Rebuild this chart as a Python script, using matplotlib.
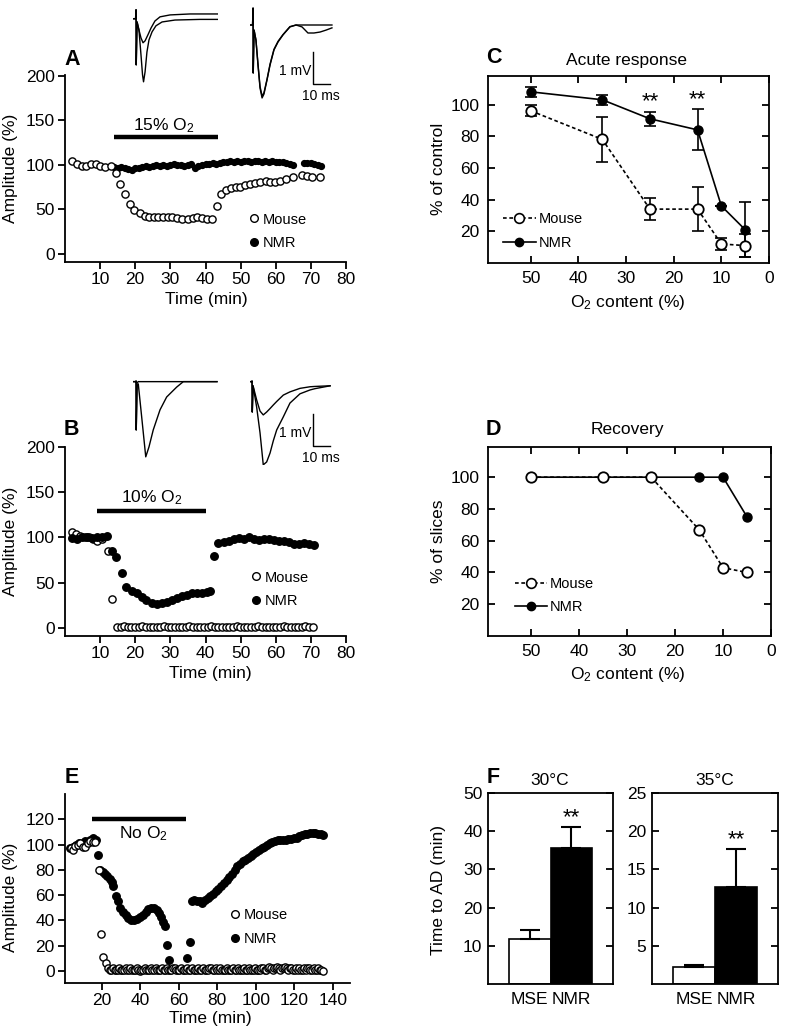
import numpy as np
import matplotlib
matplotlib.use("Agg")
import matplotlib.pyplot as plt
from matplotlib.lines import Line2D

plt.rcParams["font.family"] = ["Liberation Sans", "DejaVu Sans"]
plt.rcParams["mathtext.fontset"] = "custom"
plt.rcParams["mathtext.rm"] = "Liberation Sans"
plt.rcParams["mathtext.it"] = "Liberation Sans:italic"
plt.rcParams["font.size"] = 12.5

W, H = 792, 1035

# A - 15% O2
a_mouse_t = [2.0, 3.4, 4.7, 5.9, 7.3, 8.7, 10.1, 11.5, 13.1, 14.4, 15.7, 17.0, 18.5, 19.6, 21.3,
             22.8, 23.9, 25.3, 26.6, 28.0, 29.4, 30.6, 32.0, 33.4, 34.9, 36.3, 37.7, 39.1, 40.4,
             41.8, 43.2, 44.5, 45.8, 47.3, 48.7, 49.9, 51.3, 52.8, 54.2, 55.6, 57.1, 58.5, 59.9,
             61.3, 62.8, 64.9, 67.5, 68.9, 70.4, 72.5]
a_mouse = [104, 101, 99, 99, 101, 101, 99, 98, 99, 91, 79, 67, 56, 49, 46, 43, 42, 42, 42, 42,
           42, 41, 40, 39, 39, 40, 41, 40, 39, 39, 54, 67, 72, 74, 75, 75, 78, 79, 80, 81,
           82, 81, 81, 82, 84, 86, 89, 88, 86, 87]
a_nmr_t = list(range(14, 66)) + [68, 69, 70, 71, 72, 73]
a_nmr = [98, 97, 98, 97, 95, 94, 96, 97, 98, 99, 98, 99, 100, 99, 100, 99, 100, 101, 100, 100,
         99, 100, 101, 97, 99, 100, 101, 101, 102, 101, 102, 103, 103, 104, 103, 104, 103, 104,
         104, 103, 104, 104, 103, 104, 103, 104, 103, 103, 103, 102, 101, 100,
         102, 102, 102, 101, 100, 99]

# B - 10% O2
b_mouse_t = [2.0, 3.2, 4.4, 5.6, 6.8, 8.0, 9.2, 10.4, 12.1, 13.3]
b_mouse = [106, 104, 102, 101, 100, 98, 96, 98, 85, 32]
b_mouse_flat = [1, 1, 2, 1, 1, 1, 1, 2, 1, 1, 1, 1, 1, 2, 1, 1, 1, 1, 1, 1, 2, 1, 1, 1, 1,
                1, 2, 1, 1, 1, 1, 1, 1, 2, 1, 1, 1, 1, 1, 2, 1, 1, 1, 1, 1, 1, 2, 1, 1, 1,
                1, 1, 2, 1, 1]
b_nmr_t = [2.0, 3.4, 4.8, 6.3, 7.7, 9.1, 10.5, 11.9, 13.3, 14.6, 16.1, 17.5, 19.0, 20.4, 21.8,
           23.2, 24.7, 26.1, 27.5, 28.9, 30.4, 31.8, 33.2, 34.7, 36.1, 37.5, 38.9, 40.4, 41.4,
           42.3, 43.7, 45.2, 46.6, 48.0, 49.4, 50.9, 52.3, 53.7, 55.1, 56.6, 58.0, 59.4, 60.8,
           62.3, 63.7, 65.1, 66.5, 68.0, 69.4, 70.8]
b_nmr = [99, 98, 101, 100, 99, 100, 101, 102, 85, 78, 61, 45, 41, 38, 34, 31, 28, 26, 27, 29,
         31, 33, 35, 36, 38, 38, 39, 40, 41, 80, 94, 95, 96, 98, 99, 98, 100, 98, 97, 98, 98,
         97, 96, 96, 95, 93, 93, 94, 93, 92]

# E - no O2
e_mouse_t = [3.7, 5.0, 6.2, 7.4, 8.6, 9.9, 11.2, 12.5, 13.8, 15.1, 16.4, 18.6, 19.3, 20.4, 22.1]
e_mouse = [97, 96, 99, 100, 101, 98, 98, 101, 103, 102, 102, 80, 29, 11, 6]
e_mouse_flat = [2, 1, 1, 2, 1, 1, 1, 2, 1, 1, 1, 2, 1, 1, 2, 1, 1, 1, 2, 1, 0, 1, 1, 2, 1,
                1, 1, 2, 1, 1, 2, 1, 1, 1, 2, 1, 1, 2, 1, 1, 1, 2, 2, 1, 1, 1, 2, 1, 1, 1,
                2, 1, 1, 2, 1, 1, 1, 2, 1, 1, 2, 1, 1, 1, 2, 2, 1, 1, 2, 1, 1, 2, 1, 1, 1,
                2, 1, 1, 1, 2, 1, 1, 2, 1, 1, 1, 2, 1, 1, 2, 1, 1, 1, 2, 1, 1, 1, 2, 2, 1,
                1, 2, 3, 2, 1, 2, 2, 3, 2, 1, 2, 2, 3, 2, 1, 2, 2, 1, 1, 2, 1, 2, 1, 1, 2,
                1, 2, 2, 1, 1, 2, 1, 1, 2, 1, 1, 0]
e_nmr_t = [3.5, 5, 6.5, 8, 9.5, 11, 12.5, 14, 15.5, 16.8, 17.8, 19.2, 20.3, 21.5, 22.8, 24.2,
           25.2, 26, 27.3, 28.3, 29.4, 30.8, 32.3, 33.8, 35.3, 36.8, 38.3, 39.7, 41.2, 42.7,
           44.2, 45.7, 47.2, 48.4, 49.6, 50.8, 51.8, 52.7, 53.6, 55, 64, 65.7, 66.6, 68, 69.4,
           70.8, 72.2, 73.6, 75, 76.4, 77.8, 79.2, 80.6, 82, 83.4, 84.8, 86.2, 87.6, 89, 90.4,
           91.8, 93.2, 94.6, 96, 97.4, 98.8, 100.2, 101.6, 103, 104.4, 105.8, 107.2, 108.6, 110,
           111.4, 112.8, 114.2, 115.6, 117, 118.4, 119.8, 121.2, 122.6, 124, 125.4, 126.8, 128.2,
           129.6, 131, 132.4, 133.8, 135.2]
e_nmr = [97, 98, 100, 101, 100, 103, 102, 104, 105, 104, 91.5, 80, 78, 76.5, 75, 73, 70.5, 67,
         59, 55, 49.5, 47, 44.5, 42, 40.5, 40, 41, 43, 44.5, 47, 49, 50, 49.5, 48, 45.5, 43, 39,
         35.5, 20.5, 8.5, 10, 23, 55, 56, 55.5, 55, 54, 56, 57.5, 59, 61, 63, 65, 67.5, 69.5, 72,
         74.5, 77, 80, 83, 85, 87, 88, 89, 91, 92.5, 94.5, 95.5, 97, 98, 99.5, 101, 102, 103,
         103.5, 103.5, 103.5, 104, 104.5, 104.5, 105, 105.5, 106.5, 107.5, 108, 108.5, 109, 109,
         109, 108.5, 108.5, 107.5]

# C / D
o2 = [50, 35, 25, 15, 10, 5]
c_mouse = [96, 78, 34, 34, 12, 11]
c_mouse_err = [3.5, 14, 7, 14, 3.5, 7]
c_nmr = [108, 103, 91, 84, 36, 21]
c_nmr_err = [3, 3, 4.5, 13, 0, 17.5]
c_stars = [25, 15]
d_mouse = [100, 100, 100, 67, 43, 40]
d_nmr = [100, 100, 100, 100, 100, 75]

# F
f_groups = ["MSE", "NMR"]
f30 = [11.9, 35.5]
f30_err = [2.2, 5.5]
f35 = [2.2, 12.7]
f35_err = [0.25, 5.0]

# example sweeps (ms, mV)
a1_ms = [0, 1.5, 1.8, 1.9, 2.4, 3.5, 4.7, 5.6, 6.2, 7.1, 8.2, 9.4, 11.2, 13.5, 17.1, 24.7, 39.4, 50]
a1_big = [-0.04, -0.04, 0.24, -1.48, -0.14, -0.39, -1.17, -1.79, -2.01, -1.70, -1.08, -0.70,
          -0.45, -0.26, -0.14, -0.08, -0.06, -0.06]
a1s_ms = [0, 1.5, 1.8, 1.9, 2.4, 3.5, 4.7, 5.9, 7.1, 8.8, 10.6, 12.9, 15.9, 21.8, 33.5, 50]
a1_small = [-0.04, -0.04, 0.24, -1.48, -0.14, -0.39, -0.64, -0.79, -0.73, -0.54, -0.33, -0.11,
            0.02, 0.08, 0.11, 0.11]
a2_ms = [0, 1.5, 1.8, 1.9, 2.4, 3.5, 4.7, 5.9, 7.1, 8.2, 10, 11.8, 14.1, 16.5, 19.4, 23.5, 27.1,
         30.6, 34.1, 37.6, 41.2, 44.7, 48.2]
a2_t1 = [0, 0, 0.53, -1.5, -0.16, -0.47, -1.25, -1.97, -2.28, -2.16, -1.72, -1.25, -0.78,
         -0.53, -0.31, -0.06, 0, -0.06, -0.25, -0.25, -0.22, -0.16, -0.09]
a2_t2 = [0, 0, 0.53, -1.5, -0.16, -0.47, -1.22, -1.92, -2.22, -2.12, -1.70, -1.22, -0.76,
         -0.51, -0.30, -0.05, 0, 0, 0, 0, 0, 0, 0]
b1_ms = [0, 1.5, 1.8, 1.9, 2.4, 3.1, 5.1, 7.5, 9.4, 11.9, 15.9, 19.8, 25.7, 29.6, 49.4]
b1_big = [0, 0, 0.02, -1.51, -0.13, -0.07, -1.10, -2.35, -2.04, -1.51, -0.88, -0.48, -0.17, 0, 0]
b1s_ms = [0, 1.5, 1.8, 1.9, 2.4, 3.0, 49.4]
b1_small = [0, 0, 0.02, -1.51, -0.05, 0, 0]
b2_ms = [0, 0.9, 1.2, 1.35, 1.8, 3.9, 5.9, 7.8, 9.8, 11.8, 13.7, 15.7, 19.6, 23.5, 29.4, 35.3,
         38.2, 47.1]
b2_t1 = [0, 0, 0.02, -0.95, -0.13, -0.57, -0.92, -1.04, -0.95, -0.84, -0.73, -0.62, -0.42,
         -0.32, -0.21, -0.16, -0.15, -0.13]
b2_t2 = [0, 0, 0.02, -0.95, -0.13, -0.79, -1.60, -2.60, -2.51, -2.23, -1.85, -1.51, -1.10,
         -0.67, -0.38, -0.26, -0.22, -0.13]


def px_rect(left, top, right, bottom):
    return [left / W, 1 - bottom / H, (right - left) / W, (bottom - top) / H]


def fx(x):
    return x / W


def fy(y):
    return 1 - y / H


fig = plt.figure(figsize=(W / 100, H / 100), dpi=100)

open_kw = dict(ls="none", marker="o", mfc="white", mec="black", mew=1.0)
fill_kw = dict(ls="none", marker="o", color="black")


def style_time(ax):
    for s in ["top", "right"]:
        ax.spines[s].set_visible(False)
    for s in ["left", "bottom"]:
        ax.spines[s].set_linewidth(1.3)
    ax.tick_params(direction="out", length=5, width=1.3, labelsize=12.5, pad=2.5)


def time_legend(ax, x, y, ms):
    h = [Line2D([], [], ms=ms, **open_kw), Line2D([], [], ms=ms, **fill_kw)]
    ax.legend(h, ["Mouse", "NMR"], loc="lower left", bbox_to_anchor=(x, y), frameon=False,
              fontsize=10.5, handlelength=0.6, handletextpad=0.3, labelspacing=0.65,
              borderpad=0, borderaxespad=0)


# ---------- A ----------
axA = fig.add_axes(px_rect(65, 75, 346, 262))
axA.plot(a_nmr_t, a_nmr, ms=4.2, zorder=2, **fill_kw)
axA.plot(a_mouse_t, a_mouse, ms=5.2, zorder=3, **open_kw)
axA.plot([13.9, 43.7], [131, 131], color="black", lw=3.2, solid_capstyle="butt")
axA.text(28.2, 138.5, "15% O$_{\\mathrm{2}}$", ha="center", va="baseline", fontsize=12.5)
axA.set_xlim(0, 80)
axA.set_ylim(-9, 201)
axA.set_xticks([10, 20, 30, 40, 50, 60, 70, 80])
axA.set_yticks([0, 50, 100, 150, 200])
style_time(axA)
time_legend(axA, 0.656, 0.064, 5.5)
axA.set_ylabel("Amplitude (%)")
axA.yaxis.set_label_coords(fx(18), fy(168), transform=fig.transFigure)
axA.set_xlabel("Time (min)")
axA.xaxis.set_label_coords(fx(206), fy(292), transform=fig.transFigure)

# ---------- B ----------
axB = fig.add_axes(px_rect(65, 447, 346, 636))
axB.plot(np.concatenate([b_mouse_t, np.linspace(14.8, 70.5, len(b_mouse_flat))]),
         b_mouse + b_mouse_flat, ms=5.2, zorder=2, **open_kw)
axB.plot(b_nmr_t, b_nmr, ms=5.4, zorder=3, **fill_kw)
axB.plot([9.1, 40.1], [129.5, 129.5], color="black", lw=3.2, solid_capstyle="butt")
axB.text(24.6, 138.3, "10% O$_{\\mathrm{2}}$", ha="center", va="baseline", fontsize=12.5)
axB.set_xlim(0, 80)
axB.set_ylim(-9, 200)
axB.set_xticks([10, 20, 30, 40, 50, 60, 70, 80])
axB.set_yticks([0, 50, 100, 150, 200])
style_time(axB)
time_legend(axB, 0.664, 0.148, 5.5)
axB.set_ylabel("Amplitude (%)")
axB.yaxis.set_label_coords(fx(18), fy(541), transform=fig.transFigure)
axB.set_xlabel("Time (min)")
axB.xaxis.set_label_coords(fx(210), fy(666), transform=fig.transFigure)

# ---------- E ----------
axE = fig.add_axes(px_rect(65, 794, 350, 983))
axE.plot(e_nmr_t, e_nmr, ms=5.4, zorder=2, **fill_kw)
axE.plot(np.concatenate([e_mouse_t, np.linspace(23.3, 135, len(e_mouse_flat))]),
         e_mouse + e_mouse_flat, ms=5.2, zorder=3, **open_kw)
axE.plot([14.6, 63.6], [120.5, 120.5], color="black", lw=3.2, solid_capstyle="butt")
axE.text(41.8, 104.7, "No O$_{\\mathrm{2}}$", ha="center", va="baseline", fontsize=12.5)
axE.set_xlim(0.8, 149)
axE.set_ylim(-9.5, 140)
axE.set_xticks([20, 40, 60, 80, 100, 120, 140])
axE.set_yticks([0, 20, 40, 60, 80, 100, 120])
style_time(axE)
time_legend(axE, 0.582, 0.196, 5.5)
axE.set_ylabel("Amplitude (%)")
axE.yaxis.set_label_coords(fx(18), fy(897), transform=fig.transFigure)
axE.set_xlabel("Time (min)")
axE.xaxis.set_label_coords(fx(210), fy(1011), transform=fig.transFigure)


# ---------- sweeps ----------
def sweep_axes(left, top, ytop):
    ax = fig.add_axes(px_rect(left, top, left + 85, top + 100))
    ax.set_xlim(0, 50)
    ax.set_ylim(ytop - 3.125, ytop)
    ax.axis("off")
    return ax


def scale_bar(ax, x0, y0):
    ax.plot([x0, x0, x0 + 10], [y0, y0 - 1, y0 - 1], color="black", lw=1.0)
    ax.text(x0 - 1, y0 - 0.6, "1 mV", ha="right", va="center", fontsize=10)
    ax.text(x0 + 4.5, y0 - 1.15, "10 ms", ha="center", va="top", fontsize=10)


s = sweep_axes(133, 5, 0.39)
s.plot(a1_ms, a1_big, color="black", lw=1.0)
s.plot(a1s_ms, a1_small, color="black", lw=1.0)
s = sweep_axes(250, 5, 0.625)
s.plot(a2_ms, a2_t1, color="black", lw=1.0)
s.plot(a2_ms, a2_t2, color="black", lw=1.0)
scale_bar(s, 37.1, -0.84)
s = sweep_axes(133, 365, 0.52)
s.plot(b1_ms, b1_big, color="black", lw=1.0)
s.plot(b1s_ms, b1_small, color="black", lw=1.0)
s = sweep_axes(250, 365, 0.52)
s.plot(b2_ms, b2_t1, color="black", lw=1.0)
s.plot(b2_ms, b2_t2, color="black", lw=1.0)
scale_bar(s, 36.9, -1.01)


# ---------- C / D ----------
def style_box(ax):
    for sp in ax.spines.values():
        sp.set_linewidth(1.3)
    ax.tick_params(direction="in", length=5, width=1.3, top=True, right=True,
                   labelsize=12.5, pad=6)


def o2_legend(ax, x, y):
    h = [Line2D([], [], color="black", ls=(0, (2.2, 1.6)), lw=1.2, marker="o", mfc="white",
                mec="black", ms=7, mew=1.2),
         Line2D([], [], color="black", lw=1.2, marker="o", ms=6)]
    ax.legend(h, ["Mouse", "NMR"], loc="lower left", bbox_to_anchor=(x, y), frameon=False,
              fontsize=10.5, handlelength=2.2, handletextpad=0.2, labelspacing=0.65,
              borderpad=0, borderaxespad=0)


axC = fig.add_axes(px_rect(488, 76, 769, 263))
axC.errorbar(o2, c_nmr, yerr=c_nmr_err, fmt="none", ecolor="black", elinewidth=1.2,
             capsize=4.5, capthick=1.2, zorder=2)
axC.errorbar(o2, c_mouse, yerr=c_mouse_err, fmt="none", ecolor="black", elinewidth=1.2,
             capsize=4.5, capthick=1.2, zorder=2)
axC.plot(o2, c_nmr, color="black", lw=1.2, marker="o", ms=6.5, zorder=3)
axC.plot(o2, c_mouse, color="black", lw=1.2, ls=(0, (2.2, 1.6)), marker="o", mfc="white",
         mec="black", ms=7.5, mew=1.3, zorder=4)
for x in c_stars:
    i = o2.index(x)
    axC.text(x, c_nmr[i] + c_nmr_err[i] - 0.5, "**", ha="center", va="bottom", fontsize=16)
axC.set_xlim(59, 0)
axC.set_ylim(0, 118)
axC.set_xticks([50, 40, 30, 20, 10, 0])
axC.set_yticks([20, 40, 60, 80, 100])
style_box(axC)
o2_legend(axC, 0.055, 0.07)
axC.set_ylabel("% of control")
axC.yaxis.set_label_coords(fx(446), fy(169), transform=fig.transFigure)
axC.set_xlabel("O$_{\\mathrm{2}}$ content (%)")
axC.xaxis.set_label_coords(fx(628), fy(293), transform=fig.transFigure)

axD = fig.add_axes(px_rect(488, 447, 771, 636))
axD.plot(o2, d_nmr, color="black", lw=1.2, marker="o", ms=6.5, zorder=3)
axD.plot(o2, d_mouse, color="black", lw=1.2, ls=(0, (2.2, 1.6)), marker="o", mfc="white",
         mec="black", ms=7.5, mew=1.3, zorder=4)
axD.set_xlim(59, 0)
axD.set_ylim(0, 119)
axD.set_xticks([50, 40, 30, 20, 10, 0])
axD.set_yticks([20, 40, 60, 80, 100])
style_box(axD)
o2_legend(axD, 0.095, 0.115)
axD.set_ylabel("% of slices")
axD.yaxis.set_label_coords(fx(446), fy(541), transform=fig.transFigure)
axD.set_xlabel("O$_{\\mathrm{2}}$ content (%)")
axD.xaxis.set_label_coords(fx(628), fy(665), transform=fig.transFigure)


# ---------- F ----------
def bar_panel(ax, vals, errs, ymax, yticks):
    ax.bar([0, 1], vals, width=1, color=["white", "black"], edgecolor="black", lw=1.2, zorder=2)
    ax.errorbar([0, 1], vals, yerr=[[0, 0], errs], fmt="none", ecolor="black", elinewidth=1.5,
                capsize=7, capthick=1.5, zorder=3)
    ax.text(1, vals[1] + errs[1] - ymax * 0.005, "**", ha="center", va="bottom", fontsize=16)
    ax.set_xlim(-1, 2)
    ax.set_ylim(0, ymax)
    ax.set_yticks(yticks)
    ax.set_xticks([0, 1])
    ax.set_xticklabels(f_groups)
    for sp in ax.spines.values():
        sp.set_linewidth(1.3)
    ax.tick_params(axis="y", direction="in", length=5, width=1.3, right=True, labelsize=12.5,
                   pad=4)
    ax.tick_params(axis="x", length=0, labelsize=12.5, pad=6)


axF1 = fig.add_axes(px_rect(488, 793, 613, 984))
bar_panel(axF1, f30, f30_err, 50, [10, 20, 30, 40, 50])
axF1.set_ylabel("Time to AD (min)")
axF1.yaxis.set_label_coords(fx(446), fy(890), transform=fig.transFigure)
axF2 = fig.add_axes(px_rect(652, 793, 778, 984))
bar_panel(axF2, f35, f35_err, 25, [5, 10, 15, 20, 25])

# titles and panel letters
fig.text(fx(627), fy(65), "Acute response", ha="center", va="baseline", fontsize=12.5)
fig.text(fx(627), fy(434), "Recovery", ha="center", va="baseline", fontsize=12.5)
fig.text(fx(550), fy(785), "30°C", ha="center", va="baseline", fontsize=12.5)
fig.text(fx(715), fy(785), "35°C", ha="center", va="baseline", fontsize=12.5)
for lab, x, y in [("A", 64, 65), ("B", 64, 435), ("E", 65, 783),
                  ("C", 486, 63), ("D", 486, 435), ("F", 487, 783)]:
    fig.text(fx(x), fy(y), lab, ha="left", va="baseline", fontsize=15.5, fontweight="bold")

fig.savefig("out.png", dpi=100)
